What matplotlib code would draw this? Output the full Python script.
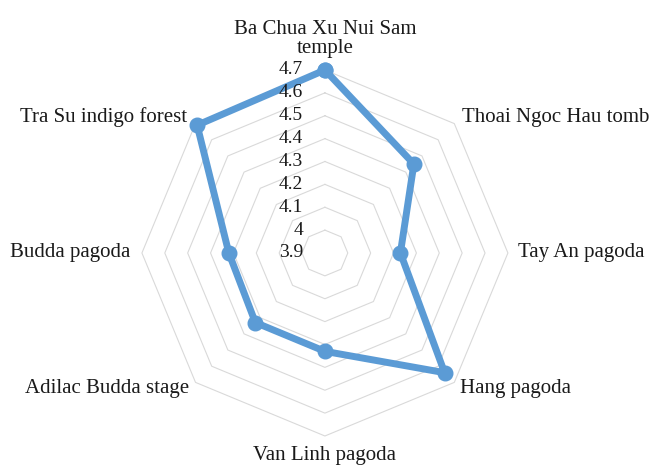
import matplotlib.pyplot as plt
import numpy as np
from matplotlib.transforms import offset_copy

categories = ['Ba Chua Xu Nui Sam\ntemple', 'Thoai Ngoc Hau tomb', 'Tay An pagoda',
              'Hang pagoda', 'Van Linh pagoda', 'Adilac Budda stage',
              'Budda pagoda', 'Tra Su indigo forest']
scores = [4.70, 4.45, 4.23, 4.64, 4.33, 4.33, 4.32, 4.69]
ring_levels = [3.9, 4.0, 4.1, 4.2, 4.3, 4.4, 4.5, 4.6, 4.7]
ring_labels = ['3.9', '4', '4.1', '4.2', '4.3', '4.4', '4.5', '4.6', '4.7']

plt.rcParams['font.family'] = ['Liberation Serif', 'DejaVu Serif']

fig = plt.figure(figsize=(6.51, 4.66), dpi=100)
ax = fig.add_axes([0.218, 0.0644, 0.5622, 0.7854], projection='polar')
ax.set_theta_zero_location('N')
ax.set_theta_direction(-1)
ax.set_ylim(ring_levels[0], ring_levels[-1])
ax.axis('off')

angles = np.linspace(0, 2 * np.pi, len(categories), endpoint=False)
closed = np.append(angles, angles[0])

# octagon grid
for lv in ring_levels[1:]:
    ax.plot(closed, [lv] * len(closed), color='#D9D9D9', lw=0.8, clip_on=False, zorder=1)

vals = scores + [scores[0]]
ax.plot(closed, vals, color='#5B9BD5', lw=5, marker='o', ms=10.5,
        solid_joinstyle='round', clip_on=False, zorder=3)

# value labels along the vertical axis
lab_tr = offset_copy(ax.transData, fig=fig, x=-22, y=0, units='dots')
for lv, lab in zip(ring_levels, ring_labels):
    ax.text(0, lv, lab, transform=lab_tr, ha='right', va='center',
            fontsize=14, color='#1a1a1a', zorder=5)

# category labels around the outside
offsets = [(0, 12, 'center', 'bottom'), (8, 6, 'left', 'center'),
           (10, 0, 'left', 'center'), (6, -6, 'left', 'center'),
           (0, -10, 'center', 'top'), (-6, -6, 'right', 'center'),
           (-12, 0, 'right', 'center'), (-8, 7, 'right', 'center')]
for ang, name, (dx, dy, ha, va) in zip(angles, categories, offsets):
    tr = offset_copy(ax.transData, fig=fig, x=dx, y=dy, units='dots')
    ax.text(ang, ring_levels[-1], name, transform=tr, ha=ha, va=va,
            fontsize=15, color='#1a1a1a', linespacing=1.0, multialignment='center')

fig.savefig('out.png', dpi=100, facecolor='white')
